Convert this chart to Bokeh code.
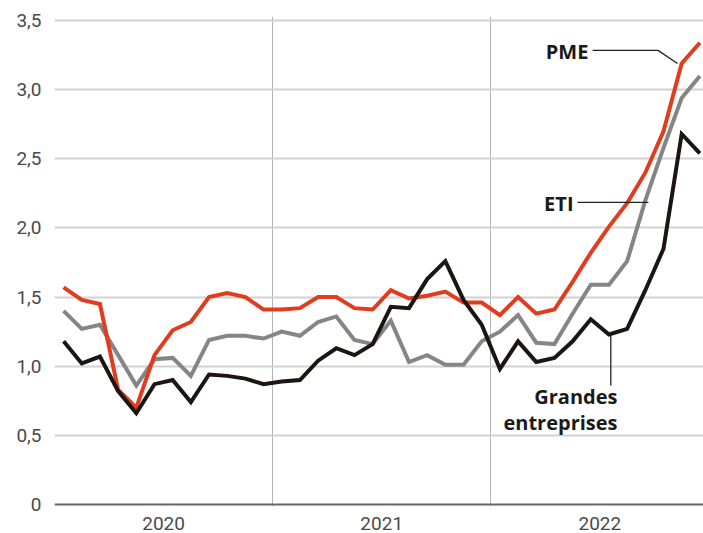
from bokeh.plotting import figure
from bokeh.models import Range1d, FixedTicker, Span, Label
from bokeh.embed import file_html
from bokeh.resources import INLINE

# Monthly series, Jan 2020 .. Dec 2022 (x = month index + 0.5)
months = [i + 0.5 for i in range(36)]
pme = [1.57, 1.48, 1.45, 0.83, 0.70, 1.08, 1.26, 1.32, 1.50, 1.53, 1.50, 1.41,
       1.41, 1.42, 1.50, 1.50, 1.42, 1.41, 1.55, 1.49, 1.51, 1.54, 1.46, 1.46,
       1.37, 1.50, 1.38, 1.41, 1.61, 1.82, 2.01, 2.18, 2.40, 2.70, 3.19, 3.34]
eti = [1.40, 1.27, 1.30, 1.08, 0.86, 1.05, 1.06, 0.93, 1.19, 1.22, 1.22, 1.20,
       1.25, 1.22, 1.32, 1.36, 1.19, 1.16, 1.33, 1.03, 1.08, 1.01, 1.01, 1.18,
       1.25, 1.37, 1.17, 1.16, 1.38, 1.59, 1.59, 1.76, 2.20, 2.58, 2.94, 3.10]
ge = [1.18, 1.02, 1.07, 0.82, 0.66, 0.87, 0.90, 0.74, 0.94, 0.93, 0.91, 0.87,
      0.89, 0.90, 1.04, 1.13, 1.08, 1.16, 1.43, 1.42, 1.63, 1.76, 1.48, 1.30,
      0.98, 1.18, 1.03, 1.06, 1.18, 1.34, 1.23, 1.27, 1.55, 1.85, 2.68, 2.54]

y_ticks = [0, 0.5, 1.0, 1.5, 2.0, 2.5, 3.0, 3.5]
y_labels = ["0", "0,5", "1,0", "1,5", "2,0", "2,5", "3,0", "3,5"]
year_centers = [6, 18, 30]
year_labels = ["2020", "2021", "2022"]
year_bounds = [12, 24]

RED = "#e03c1e"
GRAY = "#858585"
BLACK = "#1c1512"
FONT = "Roboto"
BOLD_FONT = "Open Sans"

p = figure(width=703, height=533, output_backend="svg", toolbar_location=None,
           x_range=Range1d(0.0, 35.7), y_range=Range1d(-0.015, 3.53),
           min_border_left=54, min_border_right=0, min_border_top=16,
           min_border_bottom=27)
p.outline_line_color = None
p.background_fill_color = "white"
p.border_fill_color = "white"

# grids
p.ygrid.ticker = FixedTicker(ticks=[t for t in y_ticks if t > 0])
p.ygrid.grid_line_color = "#d2d2d2"
p.ygrid.grid_line_width = 2
p.xgrid.ticker = FixedTicker(ticks=year_bounds)
p.xgrid.grid_line_color = "#b4b4b4"
p.xgrid.grid_line_width = 1
p.add_layout(Span(location=0, dimension="width", line_color="#666666", line_width=2))

# axes
p.yaxis.ticker = FixedTicker(ticks=y_ticks)
p.yaxis.major_label_overrides = {t: l for t, l in zip(y_ticks, y_labels)}
p.xaxis.ticker = FixedTicker(ticks=year_centers)
p.xaxis.major_label_overrides = {t: l for t, l in zip(year_centers, year_labels)}
for ax in (p.xaxis, p.yaxis):
    ax.axis_line_color = None
    ax.major_tick_line_color = None
    ax.minor_tick_line_color = None
    ax.major_label_text_font = FONT
    ax.major_label_text_font_size = "19px"
    ax.major_label_text_color = "#4a4a4a"
p.yaxis.major_label_standoff = 7
p.xaxis.major_label_standoff = 4

# lines
p.line(months, eti, line_color=GRAY, line_width=4, line_join="miter")
p.line(months, pme, line_color=RED, line_width=4, line_join="miter")
p.line(months, ge, line_color=BLACK, line_width=4, line_join="miter")

# annotations
def lab(x, y, t):
    p.add_layout(Label(x=x, y=y, text=t, text_font=BOLD_FONT, text_font_style="bold",
                       text_font_size="20px", text_color="#1a1a1a",
                       text_align="right", text_baseline="middle"))

lab(29.37, 3.28, "PME")
p.line([29.6, 33.2, 34.27], [3.285, 3.285, 3.19], line_color="#222222", line_width=1.3)

lab(28.55, 2.18, "ETI")
p.line([28.77, 32.67], [2.185, 2.185], line_color="#222222", line_width=1.3)

lab(30.97, 0.78, "Grandes")
lab(30.97, 0.59, "entreprises")
p.line([30.6, 30.6], [1.22, 0.86], line_color="#222222", line_width=1.3)

open("out.html", "w").write(file_html(p, INLINE))
